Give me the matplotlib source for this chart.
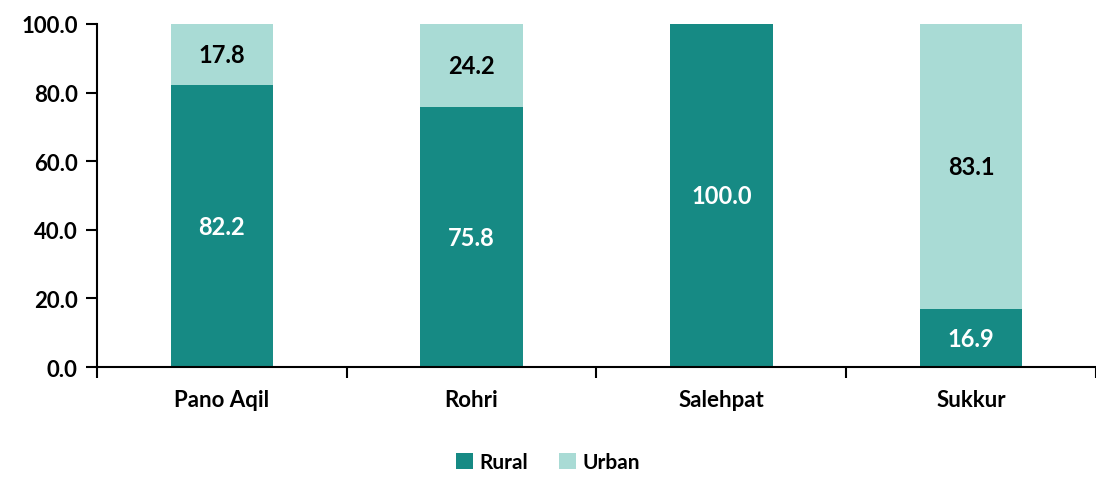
import matplotlib
matplotlib.use("Agg")
import matplotlib.pyplot as plt
import numpy as np

categories = ["Pano Aqil", "Rohri", "Salehpat", "Sukkur"]
rural = [82.2, 75.8, 100.0, 16.9]
urban = [17.8, 24.2, 0.0, 83.1]

plt.rcParams['font.family'] = ['Lato', 'DejaVu Sans']
plt.rcParams['font.weight'] = 'bold'

rural_color = "#168a84"
urban_color = "#a9dbd5"

fig = plt.figure(figsize=(10.96, 4.85), dpi=100)
ax = fig.add_axes([0.0885, 0.2412, 0.9115, 0.7073])

x = np.arange(len(categories))
w = 0.41
b1 = ax.bar(x, rural, w, color=rural_color, label="Rural")
b2 = ax.bar(x, urban, w, bottom=rural, color=urban_color, label="Urban")

for i in range(len(categories)):
    if rural[i] > 0:
        ax.text(x[i], rural[i] / 2, f"{rural[i]:.1f}", ha="center", va="center",
                color="white", fontsize=17, fontweight="bold")
    if urban[i] > 0:
        ax.text(x[i], rural[i] + urban[i] / 2, f"{urban[i]:.1f}", ha="center", va="center",
                color="black", fontsize=17, fontweight="bold")

ax.set_ylim(0, 100)
ax.set_xlim(-0.5, 3.45)
ax.set_yticks(np.arange(0, 101, 20))
ax.set_yticklabels([f"{v:.1f}" for v in np.arange(0, 101, 20)], fontsize=16, fontweight="bold")

# ticks at category borders, labels at centres
ax.set_xticks(np.arange(-0.5, 3.6, 1.0))
ax.set_xticklabels([])
ax.set_xticks(x, minor=True)
ax.set_xticklabels(categories, minor=True, fontsize=16, fontweight="bold")
ax.tick_params(axis="x", which="major", length=8, width=1.5, direction="out")
ax.tick_params(axis="x", which="minor", length=0, pad=16)
ax.tick_params(axis="y", length=8, width=1.5, pad=6)

for s in ["top", "right"]:
    ax.spines[s].set_visible(False)
ax.spines["left"].set_linewidth(1.5)
ax.spines["bottom"].set_linewidth(1.5)
ax.spines["left"].set_bounds(0, 100)

fig.legend(handles=[b1, b2], loc="center", bbox_to_anchor=(0.5, 0.045), ncol=2,
           frameon=False, fontsize=15, handlelength=0.8, handleheight=0.8,
           handletextpad=0.3, columnspacing=1.5)

fig.savefig("out.png", dpi=100)
